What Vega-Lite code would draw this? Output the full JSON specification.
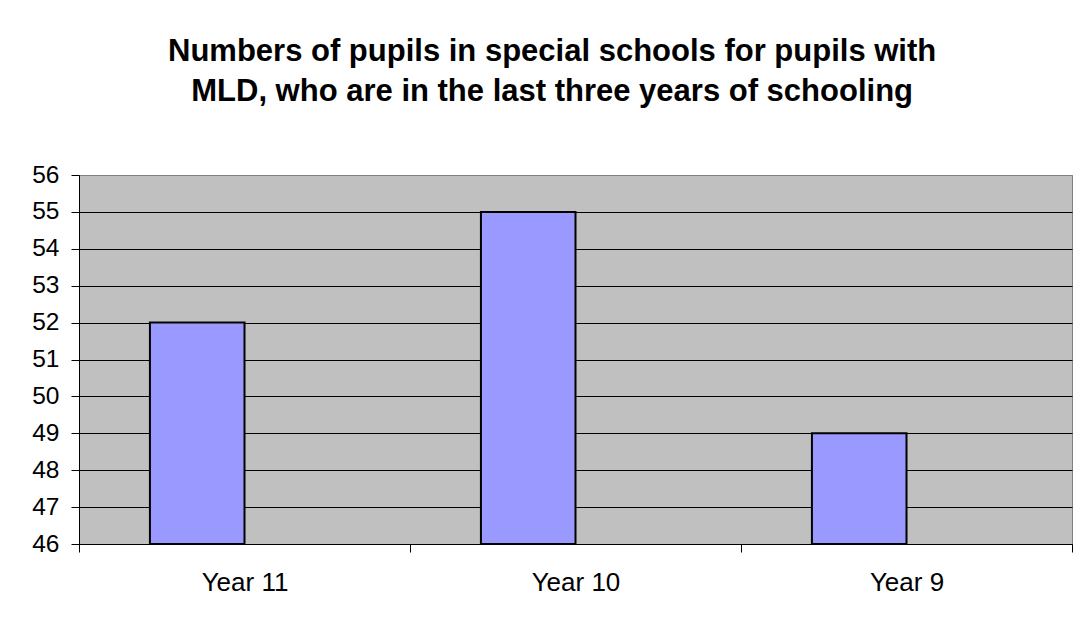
{
  "$schema": "https://vega.github.io/schema/vega-lite/v6.json",
  "width": 993,
  "height": 369,
  "autosize": {"type": "none"},
  "padding": {"left": 79, "top": 175, "right": 7, "bottom": 74},
  "background": "white",
  "title": {
    "text": ["Numbers of pupils in special schools for pupils with", "MLD, who are in the last three years of schooling"],
    "font": "Liberation Sans",
    "fontSize": 31,
    "fontWeight": "bold",
    "color": "black",
    "lineHeight": 40,
    "anchor": "middle",
    "frame": "bounds",
    "offset": 54
  },
  "data": {
    "values": [
      {"year": "Year 11", "series": "A", "pupils": 52},
      {"year": "Year 10", "series": "A", "pupils": 55},
      {"year": "Year 9", "series": "A", "pupils": 49}
    ]
  },
  "mark": {"type": "bar", "fill": "#9999FF", "stroke": "black", "strokeWidth": 2},
  "encoding": {
    "x": {
      "field": "year",
      "type": "nominal",
      "sort": ["Year 11", "Year 10", "Year 9"],
      "scale": {"paddingInner": 0, "paddingOuter": 0},
      "axis": {
        "title": null,
        "labelAngle": 0,
        "labelFont": "Liberation Sans",
        "labelFontSize": 26,
        "labelColor": "black",
        "labelPadding": 17,
        "tickBand": "extent",
        "tickSize": 8,
        "tickColor": "black",
        "domainColor": "black",
        "grid": false
      }
    },
    "xOffset": {
      "field": "series",
      "type": "nominal",
      "scale": {"domain": ["A", "B"], "paddingInner": 0, "paddingOuter": 0.75}
    },
    "y": {
      "field": "pupils",
      "type": "quantitative",
      "scale": {"domain": [46, 56], "zero": false, "nice": false},
      "axis": {
        "title": null,
        "values": [46, 47, 48, 49, 50, 51, 52, 53, 54, 55, 56],
        "labelFont": "Liberation Sans",
        "labelFontSize": 24.5,
        "labelColor": "black",
        "labelPadding": 12,
        "tickSize": 8,
        "tickColor": "black",
        "domainColor": "black",
        "grid": true,
        "gridColor": {"condition": {"test": "datum.value == 56", "value": "#808080"}, "value": "black"},
        "gridOpacity": 1
      }
    },
    "y2": {"datum": 46}
  },
  "config": {
    "view": {"fill": "#C0C0C0", "stroke": "#808080", "strokeWidth": 1}
  }
}
